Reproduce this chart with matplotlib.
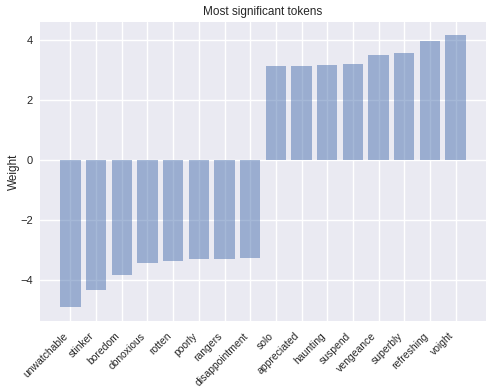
import numpy as np
import matplotlib
matplotlib.use('Agg')
import matplotlib.pyplot as plt

tokens = ['unwatchable', 'stinker', 'boredom', 'obnoxious', 'rotten', 'poorly',
          'rangers', 'disappointment', 'solo', 'appreciated', 'haunting',
          'suspend', 'vengeance', 'superbly', 'refreshing', 'voight']
weights = [-4.91, -4.34, -3.84, -3.43, -3.37, -3.30, -3.30, -3.27,
           3.15, 3.15, 3.19, 3.22, 3.52, 3.59, 3.96, 4.16]

plt.style.use('seaborn-v0_8')
plt.rcParams['font.family'] = ['Liberation Sans', 'DejaVu Sans']

fig, ax = plt.subplots(figsize=(4.93, 3.90), dpi=100)
x = np.arange(len(tokens))
ax.bar(x, weights, alpha=0.5)
ax.set_xticks(x)
ax.set_xticklabels(tokens, rotation=45, ha='right', fontsize=7.5)
ax.tick_params(axis='y', labelsize=8, pad=5)
ax.set_ylabel('Weight', fontsize=8.5, labelpad=0)
ax.set_title('Most significant tokens', fontsize=8.5, pad=5)
fig.subplots_adjust(left=0.081, right=0.986, top=0.944, bottom=0.177)
plt.savefig('out.png')
